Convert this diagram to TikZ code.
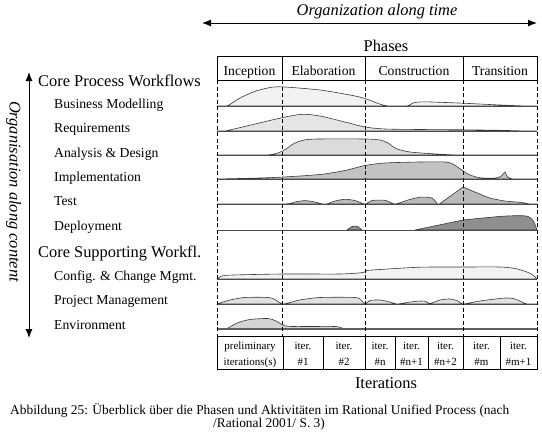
\documentclass[tikz,border=0pt]{standalone}
\usepackage{fontspec}
\setmainfont{Liberation Serif}
\usetikzlibrary{arrows.meta}

\definecolor{fillBM}{gray}{0.95}
\definecolor{fillRQ}{gray}{0.90}
\definecolor{fillAD}{gray}{0.86}
\definecolor{fillIM}{gray}{0.76}
\definecolor{fillTE}{gray}{0.73}
\definecolor{fillDE}{gray}{0.56}
\definecolor{fillCF}{gray}{0.95}
\definecolor{fillPM}{gray}{0.88}
\definecolor{fillEN}{gray}{0.83}
\definecolor{curvecol}{gray}{0.22}
\definecolor{basecol}{gray}{0.30}

\begin{document}
\begin{tikzpicture}[x=1pt,y=-1pt,
  big/.style={font=\fontsize{16.4}{19}\selectfont, inner sep=0},
  bigit/.style={font=\fontsize{16.4}{19}\selectfont\itshape, inner sep=0},
  mid/.style={font=\fontsize{13.7}{16}\selectfont, inner sep=0},
  capt/.style={font=\fontsize{13.4}{16}\selectfont, inner sep=0, anchor=base west},
  small/.style={font=\fontsize{11}{13}\selectfont, inner sep=0, anchor=base},
  item/.style={mid, anchor=base west},
  group/.style={big, anchor=base west},
  frame/.style={draw=black, line width=0.8pt},
  phasesep/.style={draw=black, line width=0.7pt, dash pattern=on 4pt off 2.5pt},
  activity/.style={draw=curvecol, line width=0.6pt, line join=round},
  baseline/.style={draw=basecol, line width=0.9pt},
  bigarrow/.style={line width=1pt, {Latex[length=9pt,width=7pt]}-{Latex[length=9pt,width=7pt]}},
  sm/.style={smooth, tension=0.45}
]
\useasboundingbox (0,0) rectangle (542,432);

% ---------- axis arrows ----------
\node[bigit, anchor=base] (timelbl) at (377,15.7) {Organization along time};
\coordinate (tl) at (202,23);
\coordinate (tr) at (537,23);
\draw[bigarrow] (tl) -- (tr);

\node[bigit, rotate=-90] (contlbl) at (13.5,191.5) {Organisation along content};
\coordinate (lt) at (29,72);
\coordinate (lb) at (29,338);
\draw[bigarrow] (lt) -- (lb);

% ---------- workflow labels ----------
\node[group] (cpw) at (38,86) {Core Process Workflows};
\node[item] (bm) at (54,108.3) {Business Modelling};
\node[item] (rq) at (54,132.7) {Requirements};
\node[item] (ad) at (54,157) {Analysis \& Design};
\node[item] (im) at (54,181.4) {Implementation};
\node[item] (te) at (54,205.7) {Test};
\node[item] (de) at (54,230.1) {Deployment};
\node[group] (csw) at (38,257.3) {Core Supporting Workfl.};
\node[item] (cf) at (54,280) {Config. \& Change Mgmt.};
\node[item] (pm) at (54,304.3) {Project Management};
\node[item] (en) at (54,329.3) {Environment};

% ---------- phases header ----------
\node[big, anchor=base] (phases) at (386,51.7) {Phases};
\draw[frame] (217,56) rectangle (537,80);
\foreach \x in {282,365,463} \draw[frame] (\x,56) -- (\x,80);
\node[mid, anchor=base] (ph1) at (249.5,75) {Inception};
\node[mid, anchor=base] (ph2) at (323.5,75) {Elaboration};
\node[mid, anchor=base] (ph3) at (414,75) {Construction};
\node[mid, anchor=base] (ph4) at (500,75) {Transition};

% ---------- activity profiles ----------
% Business Modelling
\path[activity, fill=fillBM] plot[sm] coordinates {(217,106) (227,106) (240,98) (256,91) (272,87.2) (285,87) (320,90) (350,95) (365,98.5) (378,103.5) (388,106) (407,106) (413,103) (422,101.8) (440,102.3) (463,103.2) (500,105) (527,106) (537,106)} -- cycle;
% Requirements
\path[activity, fill=fillRQ] plot[sm] coordinates {(217,131) (225,131) (255,124) (283,117.5) (302,114.3) (320,116) (345,122) (365,127) (385,129) (420,129.5) (463,129.8) (500,130.3) (527,131) (537,131)} -- cycle;
% Analysis & Design
\path[activity, fill=fillAD] plot[sm] coordinates {(217,155) (265,155) (278,153) (286,149) (294,143.5) (304,140) (318,139) (365,139) (380,140) (388,143) (396,148.5) (410,152) (440,154.2) (463,155) (537,155)} -- cycle;
% Implementation
\path[activity, fill=fillIM] plot[sm] coordinates {(217,179) (260,178) (283,177) (320,174.5) (345,170.5) (365,165.5) (385,163) (420,162) (445,162) (453,164) (461,169.5) (469,174.5) (480,177.8) (496,178) (502,175.5) (505,172) (508,177.5) (515,179) (537,179)} -- cycle;
% Test
\path[activity, fill=fillTE] plot[sm] coordinates {(217,204) (283,204) (295,202) (305,200.6) (315,202) (325,204.3) (335,201) (345,199.3) (355,200.5) (365,204) (372,200.5) (385,200.3) (395,204) (408,200) (420,197.2) (432,198) (438,205)} -- plot[sm] coordinates {(463,187) (476,192.5) (490,198) (505,201) (520,202.3) (530,204) (537,204)} -- cycle;
% Deployment
\path[activity, fill=fillDE] plot[sm] coordinates {(347,230) (352,226.6) (357,226.2) (362,230)} -- cycle;
\path[activity, fill=fillDE] (415,230) -- plot[sm] coordinates {(463,220) (503,216.2) (526,216) (533,220.5) (537,230)} -- cycle;
% Config. & Change Mgmt.
\path[activity, fill=fillCF] plot[sm] coordinates {(217,279) (222,276) (233,275) (283,274) (340,274) (363,272.5) (367,270.5) (380,269.5) (420,267.2) (463,267) (500,267) (515,268.5) (527,272) (533,275) (537,279)} -- cycle;
% Project Management
\path[activity, fill=fillPM] plot[sm] coordinates {(217,304) (230,300) (245,297.5) (268,297.5) (276,300) (283,304) (300,300) (320,297.5) (355,297.5) (361,300) (365,304) (370,300.5) (380,300) (390,302) (397,304) (410,302) (421,301) (426,301.5) (430,303.5) (440,300) (450,299) (458,301) (463,304) (480,301) (505,298) (515,299) (522,302) (527,304) (537,304)} -- cycle;
% Environment
\path[activity, fill=fillEN] plot[sm] coordinates {(217,329) (226,329) (237,323) (250,319.5) (268,318.5) (276,321) (283,325) (292,326.5) (335,326.5) (343,328.5) (350,329) (537,329)} -- cycle;

% baselines of the profiles
\foreach \y in {106,131,155,179,204,230,279,304}
  \draw[baseline] (217,\y) -- (537,\y);
\draw[draw=gray!75!black, line width=1.6pt] (217,329) -- (537,329);

% phase boundaries
\foreach \x in {217,282,365,463,537}
  \draw[phasesep] (\x,80) -- (\x,336);

% ---------- iterations row ----------
\draw[frame] (217,336) rectangle (537,369);
\foreach \x in {283,323,365,395,428,463,500} \draw[frame] (\x,336) -- (\x,369);
\foreach \cx/\ta/\tb [count=\i] in {250/preliminary/iterations(s), 303/iter./\#1, 344/iter./\#2, 380/iter./\#n, 411.5/iter./\#n+1, 445.5/iter./\#n+2, 481.5/iter./\#m, 518.5/iter./\#m+1} {
  \node[small] (it\i a) at (\cx,349.3) {\ta};
  \node[small] (it\i b) at (\cx,365) {\tb};
}
\node[big, anchor=base] (iters) at (386,388.3) {Iterations};

% ---------- caption ----------
\node[capt] (cap1) at (10,414) {Abbildung 25: Überblick über die Phasen und Aktivitäten im Rational Unified Process (nach};
\node[capt] (cap2) at (213,427.3) {/Rational 2001/ S. 3)};
\end{tikzpicture}
\end{document}
